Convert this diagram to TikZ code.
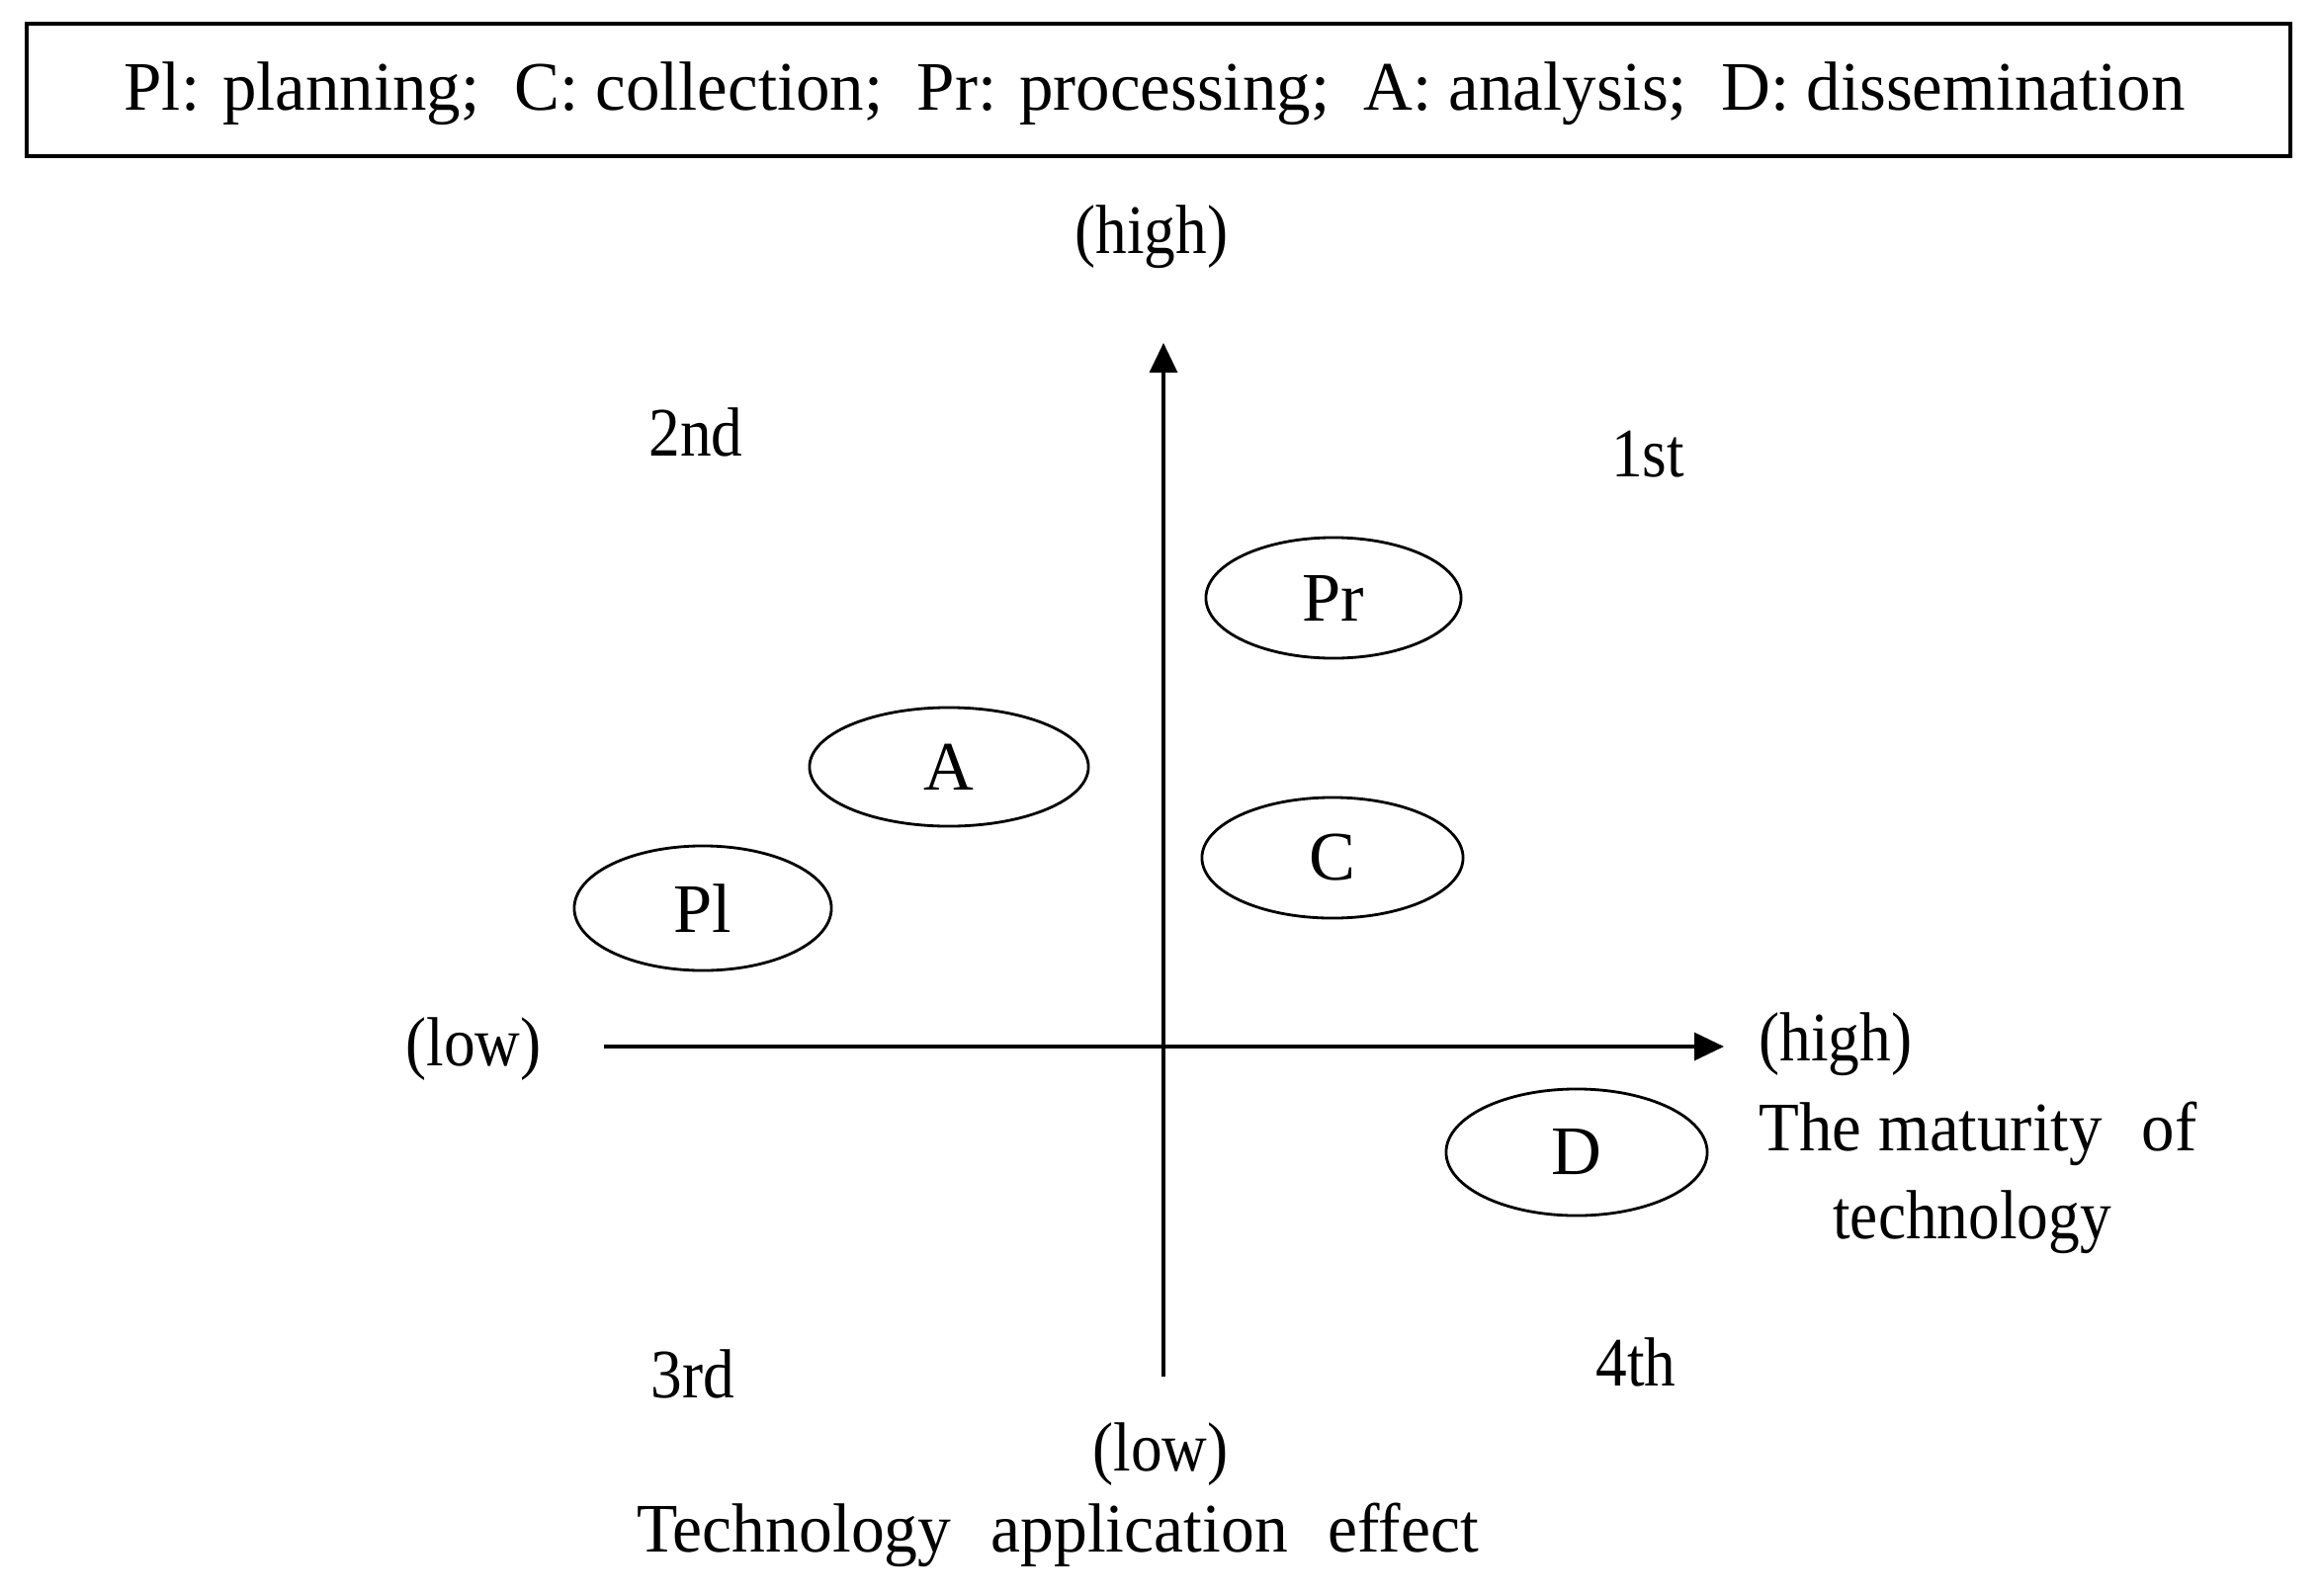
\documentclass[tikz,border=0pt]{standalone}
\usepackage{fontspec}
\setmainfont{Liberation Serif}
\usetikzlibrary{shapes.geometric,arrows.meta}
\begin{document}
\begin{tikzpicture}[x=0.01cm,y=-0.01cm,
  every node/.style={font=\fontsize{20}{24}\selectfont, inner sep=0pt},
  bubble/.style={ellipse, draw, line width=0.8pt, inner sep=0pt},
  axis/.style={line width=0.9pt, -{Triangle[length=0.3cm,width=0.28cm]}},
  lbl/.style={xscale=0.9}
]
\useasboundingbox (0,0) rectangle (2348,1615);
% legend box
\node[draw, line width=1pt, minimum width=22.89cm, minimum height=1.34cm, anchor=north west] (legend) at (25,22) {};
\node[xscale=0.98] (legendtext) at (1168,95) {Pl: planning;\ \ C: collection;\ \ Pr: processing;\ \ A: analysis;\ \ D: dissemination};
% axes
\coordinate (vbot) at (1177,1393);
\coordinate (vtop) at (1177,347);
\coordinate (hleft) at (611,1059);
\coordinate (hright) at (1744,1059);
\draw[axis] (vbot) -- (vtop);
\draw[axis] (hleft) -- (hright);
% ellipses
\node[bubble, minimum width=2.58cm, minimum height=1.22cm] (Pr) at (1349,605) {Pr};
\node[bubble, minimum width=2.82cm, minimum height=1.20cm] (A) at (960,776) {A};
\node[bubble, minimum width=2.60cm, minimum height=1.26cm] (Pl) at (711,919) {Pl};
\node[bubble, minimum width=2.64cm, minimum height=1.22cm] (C) at (1348,868) {C};
\node[bubble, minimum width=2.64cm, minimum height=1.28cm] (D) at (1595,1166) {D};
% labels
\node[lbl] (hightop) at (1165,240) {(high)};
\node[lbl] (second) at (704,437) {2nd};
\node[lbl] (first) at (1667,460) {1st};
\node[lbl] (lowleft) at (479,1062) {(low)};
\node[lbl, anchor=west] (highright) at (1779,1057) {(high)};
\node[xscale=0.95, anchor=west] (maturity) at (1779,1147) {The maturity\hspace{0.6em}of};
\node[lbl] (technology) at (1995,1237) {technology};
\node[lbl] (third) at (701,1390) {3rd};
\node[lbl] (fourth) at (1655,1378) {4th};
\node[lbl] (lowbottom) at (1174,1472) {(low)};
\node[xscale=0.96] (effect) at (1070,1553) {Technology\hspace{0.6em}application\hspace{0.6em}effect};
\end{tikzpicture}
\end{document}
